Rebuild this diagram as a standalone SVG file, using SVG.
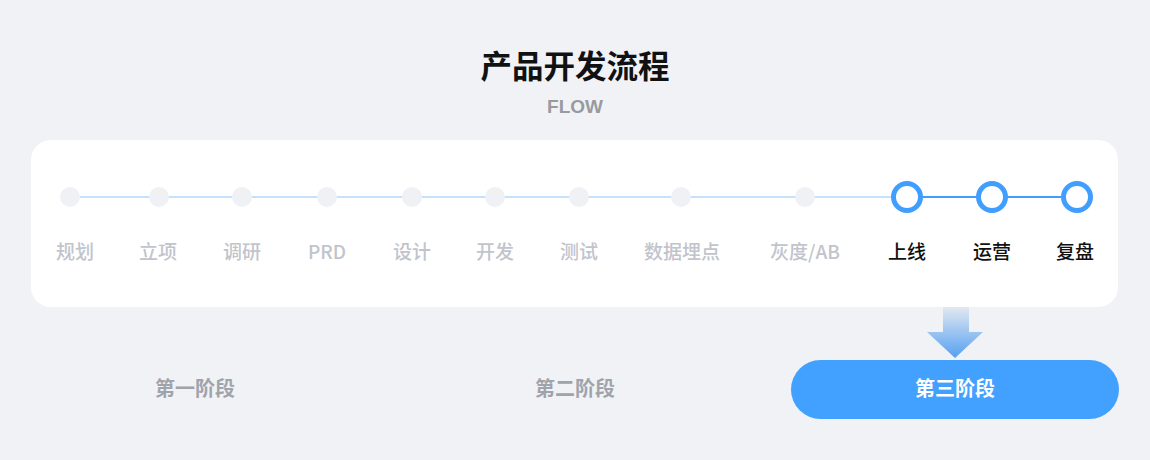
<svg xmlns="http://www.w3.org/2000/svg" width="1150" height="460" viewBox="0 0 1150 460">
  <defs>
    <linearGradient id="arrowGrad" x1="0" y1="0" x2="0" y2="1">
      <stop offset="0" stop-color="#e2e8f0"/>
      <stop offset="1" stop-color="#55a0f2"/>
    </linearGradient>
    <style>
      .cjk { font-family: "Noto Sans CJK SC", "Liberation Sans", sans-serif; }
      .title { font-size: 31.5px; font-weight: 700; fill: #111111; }
      .sub { font-family: "Liberation Sans", "Noto Sans CJK SC", sans-serif; font-size: 19px; font-weight: 700; fill: #999aa0; }
      .dot { fill: #f0f1f5; }
      .ring { fill: #ffffff; stroke: #409eff; stroke-width: 5; }
      .lbl { font-size: 19px; font-weight: 500; text-anchor: middle; }
      .off { fill: #c1c4cc; }
      .on { fill: #111111; }
      .stage { font-size: 20px; font-weight: 700; text-anchor: middle; fill: #a0a3aa; }
      .line-off { stroke: #c6e1fb; stroke-width: 2; }
      .line-on { stroke: #409eff; stroke-width: 2; }
    </style>
  </defs>
  <rect width="1150" height="460" fill="#f0f2f6"/>
  <text class="cjk title" x="575" y="78" text-anchor="middle">产品开发流程</text>
  <text class="sub" x="575" y="113" text-anchor="middle">FLOW</text>

  <rect id="card" x="31" y="140" width="1087" height="167" rx="20" fill="#ffffff"/>

  <g id="connectors">
    <line class="line-off" x1="70" y1="197" x2="907" y2="197"/>
    <line class="line-on" x1="907" y1="197" x2="1077" y2="197"/>
    <path d="M943 307 H969 V332 H983 L955 358 L927 332 H943 Z" fill="url(#arrowGrad)"/>
  </g>

  <g id="n-guihua"><circle class="dot" cx="70" cy="197" r="10"/><text class="cjk lbl off" x="75" y="259">规划</text></g>
  <g id="n-lixiang"><circle class="dot" cx="159" cy="197" r="10"/><text class="cjk lbl off" x="158" y="259">立项</text></g>
  <g id="n-diaoyan"><circle class="dot" cx="242" cy="197" r="10"/><text class="cjk lbl off" x="242" y="259">调研</text></g>
  <g id="n-prd"><circle class="dot" cx="327" cy="197" r="10"/><text class="cjk lbl off" x="327" y="259">PRD</text></g>
  <g id="n-sheji"><circle class="dot" cx="412" cy="197" r="10"/><text class="cjk lbl off" x="412" y="259">设计</text></g>
  <g id="n-kaifa"><circle class="dot" cx="495" cy="197" r="10"/><text class="cjk lbl off" x="495" y="259">开发</text></g>
  <g id="n-ceshi"><circle class="dot" cx="579" cy="197" r="10"/><text class="cjk lbl off" x="579" y="259">测试</text></g>
  <g id="n-maidian"><circle class="dot" cx="681" cy="197" r="10"/><text class="cjk lbl off" x="682" y="259">数据埋点</text></g>
  <g id="n-huidu"><circle class="dot" cx="805" cy="197" r="10"/><text class="cjk lbl off" x="805" y="259">灰度/AB</text></g>
  <g id="n-shangxian"><circle class="ring" cx="907" cy="197" r="13.5"/><text class="cjk lbl on" x="907" y="259">上线</text></g>
  <g id="n-yunying"><circle class="ring" cx="992" cy="197" r="13.5"/><text class="cjk lbl on" x="992" y="259">运营</text></g>
  <g id="n-fupan"><circle class="ring" cx="1077" cy="197" r="13.5"/><text class="cjk lbl on" x="1075" y="259">复盘</text></g>

  <g id="stage1"><text class="cjk stage" x="195" y="396">第一阶段</text></g>
  <g id="stage2"><text class="cjk stage" x="575" y="396">第二阶段</text></g>
  <g id="stage3">
    <rect x="791" y="360" width="328" height="59" rx="29.5" fill="#42a0ff"/>
    <text class="cjk stage" x="955" y="396" style="fill:#ffffff">第三阶段</text>
  </g>
</svg>
